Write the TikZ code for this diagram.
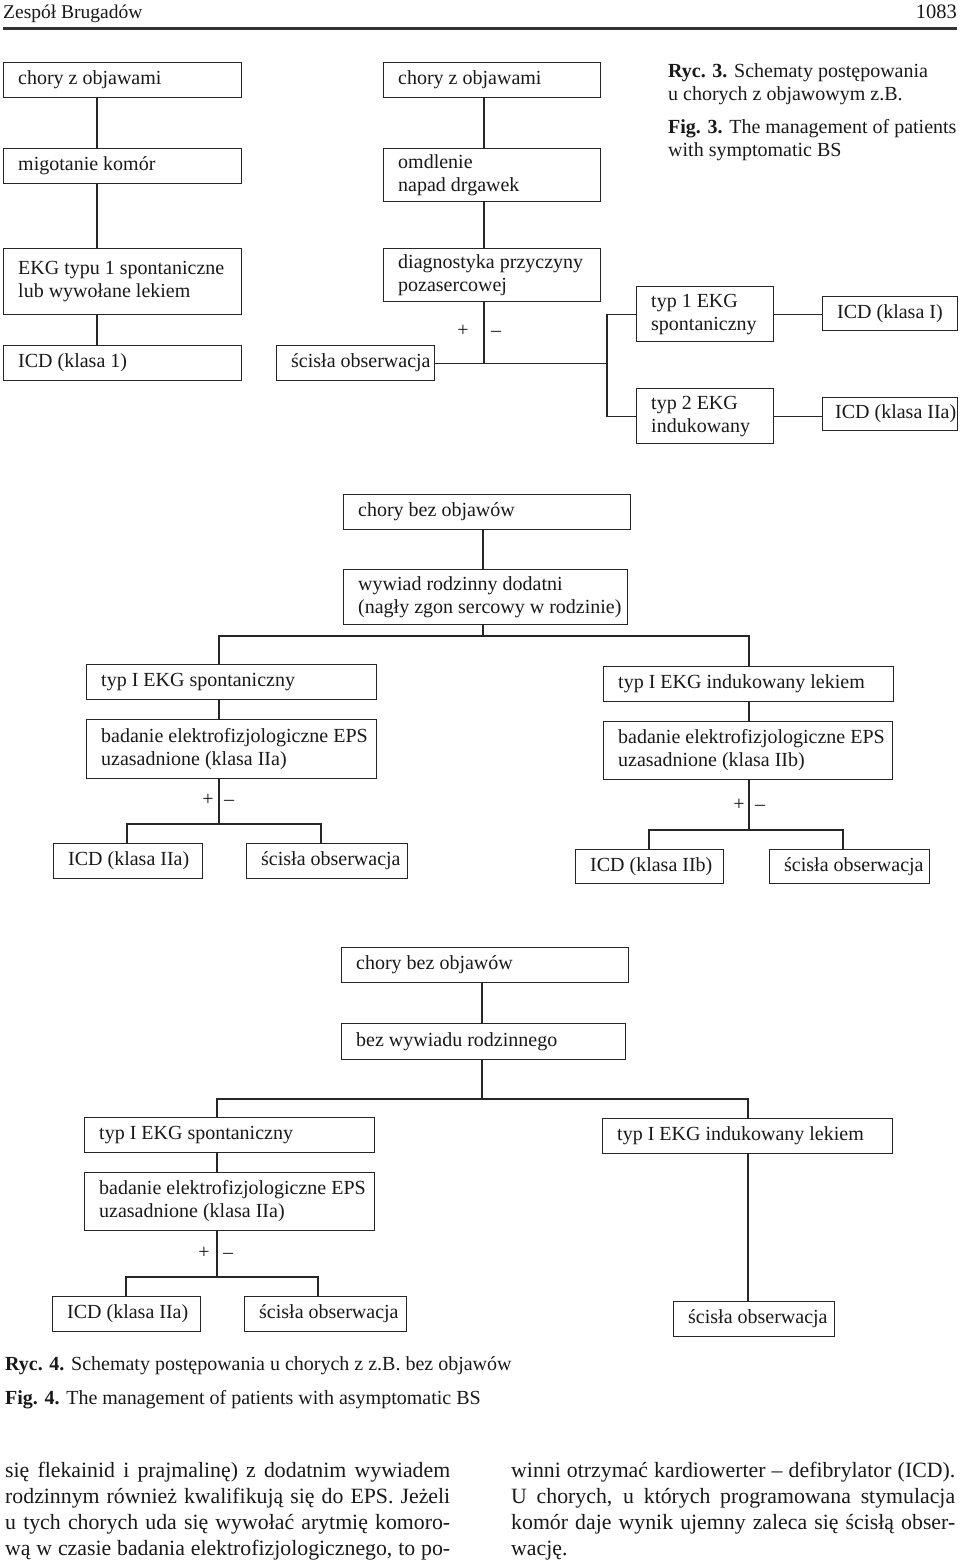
\documentclass[tikz,border=0pt]{standalone}
\usepackage{fontspec}
\setmainfont{Liberation Serif}
\tikzset{
  box/.style={draw=black!85, line width=1.1pt, rectangle, inner sep=0pt, anchor=north west},
  txt/.style={inner sep=0pt, font=\fontsize{20}{23}\selectfont, text=black!90},
  conn/.style={draw=black!85, line width=1.1pt},
  pmsign/.style={inner sep=0pt, font=\fontsize{20}{23}\selectfont, text=black!90, anchor=base},
  captxt/.style={inner sep=0pt, font=\fontsize{20}{23}\selectfont, text=black!90, anchor=base west},
  bodytxt/.style={inner sep=0pt, font=\fontsize{21.8}{26}\selectfont, text=black!90, anchor=base west},
}
\def\ins{15pt}
\newcommand{\bxa}[6]{%
  \node[box, minimum width=#4, minimum height=#5] (#1) at (#2,#3) {};
  \node[txt, anchor=base west] (#1-t) at ([xshift=\ins,yshift=-4.5pt]#1.west) {#6};}
\newcommand{\bxb}[7]{%
  \node[box, minimum width=#4, minimum height=#5] (#1) at (#2,#3) {};
  \node[txt, anchor=base west] (#1-t) at ([xshift=\ins,yshift=7pt]#1.west) {#6};
  \node[txt, anchor=base west] (#1-u) at ([xshift=\ins,yshift=-16pt]#1.west) {#7};}
\begin{document}
\begin{tikzpicture}[x=1pt,y=-1pt]
\useasboundingbox (0,0) rectangle (960,1567);
\fill[white] (0,0) rectangle (960,1567);

% header
\node[inner sep=0pt, font=\fontsize{19.5}{23}\selectfont, text=black!90, anchor=base west] (hdl) at (3,18) {Zespół Brugadów};
\node[inner sep=0pt, font=\fontsize{20.5}{23}\selectfont, text=black!90, anchor=base east] (hdr) at (957,18) {1083};
\draw[line width=3pt, black!80] (3,28.5) -- (957,28.5);

% caption Ryc. 3
\node[captxt] (r3a) at (668,77) {\textbf{Ryc. 3.} Schematy postępowania};
\node[captxt] (r3b) at (668,100) {u chorych z objawowym z.B.};
\node[captxt] (r3c) at (668,133) {\textbf{Fig. 3.} The management of patients};
\node[captxt] (r3d) at (668,156) {with symptomatic BS};

% ---------- top diagram ----------
\bxa{A1}{3}{62}{238}{35}{chory z objawami}
\bxa{A2}{3}{148}{238}{35}{migotanie komór}
\bxb{A3}{3}{248}{238}{66}{EKG typu 1 spontaniczne}{lub wywołane lekiem}
\bxa{A4}{3}{345}{238}{35}{ICD (klasa 1)}
\bxa{B1}{383}{62}{217}{35}{chory z objawami}
\bxb{B2}{383}{148}{217}{53}{omdlenie}{napad drgawek}
\bxb{B3}{383}{248}{217}{53}{diagnostyka przyczyny}{pozasercowej}
\bxa{B4}{276}{345}{158}{35}{ścisła obserwacja}
\bxb{C1}{636}{286}{137}{55}{typ 1 EKG}{spontaniczny}
\bxb{C2}{636}{388}{137}{55}{typ 2 EKG}{indukowany}
\bxa{D1}{822}{296}{135}{34}{ICD (klasa I)}
\def\ins{13pt}
\bxa{D2}{822}{397}{135}{33}{ICD (klasa IIa)}
\def\ins{15pt}

\coordinate (xa) at (97,0);
\coordinate (xb) at (484,0);
\coordinate (br) at (607,0);
\draw[conn] (A1.south -| xa) -- (A2.north -| xa);
\draw[conn] (A2.south -| xa) -- (A3.north -| xa);
\draw[conn] (A3.south -| xa) -- (A4.north -| xa);
\draw[conn] (B1.south -| xb) -- (B2.north -| xb);
\draw[conn] (B2.south -| xb) -- (B3.north -| xb);
\draw[conn] (B3.south -| xb) -- (B4.east -| xb);
\draw[conn] (B4.east) -- (B4.east -| br);
\draw[conn] (C1.west) -- (C1.west -| br) -- (C2.west -| br) -- (C2.west);
\draw[conn] (C1.east) -- (C1.east -| D1.west);
\draw[conn] (C2.east) -- (C2.east -| D2.west);
\node[pmsign] (p1) at (463,336) {+};
\node[pmsign] (m1) at (496,336) {–};

% ---------- middle diagram ----------
\bxa{E1}{343}{494}{287}{35}{chory bez objawów}
\bxb{E2}{343}{569}{284}{55}{wywiad rodzinny dodatni}{(nagły zgon sercowy w rodzinie)}
\bxa{F1}{86}{664}{290}{35}{typ I EKG spontaniczny}
\bxb{F2}{86}{719}{290}{59}{badanie elektrofizjologiczne EPS}{uzasadnione (klasa IIa)}
\bxa{F3}{603}{666}{290}{35}{typ I EKG indukowany lekiem}
\bxb{F4}{603}{721}{289}{58}{badanie elektrofizjologiczne EPS}{uzasadnione (klasa IIb)}
\bxa{G1}{53}{843}{149}{35}{ICD (klasa IIa)}
\bxa{G2}{246}{843}{161}{35}{ścisła obserwacja}
\bxa{G3}{575}{849}{148}{34}{ICD (klasa IIb)}
\bxa{G4}{769}{849}{160}{34}{ścisła obserwacja}

\coordinate (xm) at (483,636);
\coordinate (xf) at (219,0);
\coordinate (xg) at (749,0);
\coordinate (j2) at (219,824);
\coordinate (j3) at (749,830);
\coordinate (g1) at (127,0);
\coordinate (g2) at (321,0);
\coordinate (g3) at (649,0);
\coordinate (g4) at (843,0);
\draw[conn] (E1.south -| xm) -- (E2.north -| xm);
\draw[conn] (E2.south -| xm) -- (xm);
\draw[conn] (F1.north -| xf) -- (xf |- xm) -- (xg |- xm) -- (F3.north -| xg);
\draw[conn] (F1.south -| xf) -- (F2.north -| xf);
\draw[conn] (F3.south -| xg) -- (F4.north -| xg);
\draw[conn] (F2.south -| xf) -- (j2);
\draw[conn] (F4.south -| xg) -- (j3);
\draw[conn] (G1.north -| g1) -- (g1 |- j2) -- (g2 |- j2) -- (G2.north -| g2);
\draw[conn] (G3.north -| g3) -- (g3 |- j3) -- (g4 |- j3) -- (G4.north -| g4);
\node[pmsign] (p2) at (208,805) {+};
\node[pmsign] (m2) at (229,805) {–};
\node[pmsign] (p3) at (739,810) {+};
\node[pmsign] (m3) at (760,810) {–};

% ---------- bottom diagram ----------
\bxa{H1}{341}{947}{287}{35}{chory bez objawów}
\bxa{H2}{341}{1023}{284}{36}{bez wywiadu rodzinnego}
\bxa{I1}{84}{1117}{290}{35}{typ I EKG spontaniczny}
\bxb{I2}{84}{1172}{290}{58}{badanie elektrofizjologiczne EPS}{uzasadnione (klasa IIa)}
\bxa{I3}{602}{1118}{290}{35}{typ I EKG indukowany lekiem}
\bxa{J1}{52}{1296}{148}{35}{ICD (klasa IIa)}
\bxa{J2}{244}{1296}{162}{35}{ścisła obserwacja}
\bxa{J3}{673}{1301}{161}{35}{ścisła obserwacja}

\coordinate (xh) at (482,1099);
\coordinate (xi) at (217,0);
\coordinate (xj) at (748,0);
\coordinate (j4) at (217,1277);
\coordinate (k1) at (126,0);
\coordinate (k2) at (318,0);
\draw[conn] (H1.south -| xh) -- (H2.north -| xh);
\draw[conn] (H2.south -| xh) -- (xh);
\draw[conn] (I1.north -| xi) -- (xi |- xh) -- (xj |- xh) -- (I3.north -| xj);
\draw[conn] (I1.south -| xi) -- (I2.north -| xi);
\draw[conn] (I2.south -| xi) -- (j4);
\draw[conn] (J1.north -| k1) -- (k1 |- j4) -- (k2 |- j4) -- (J2.north -| k2);
\draw[conn] (I3.south -| xj) -- (J3.north -| xj);
\node[pmsign] (p4) at (204,1258) {+};
\node[pmsign] (m4) at (228,1258) {–};

% caption Ryc. 4
\node[captxt] (r4a) at (5,1370) {\textbf{Ryc. 4.} Schematy postępowania u chorych z z.B. bez objawów};
\node[captxt] (r4b) at (5,1404) {\textbf{Fig. 4.} The management of patients with asymptomatic BS};

% body text
\node[bodytxt] (t1) at (5,1477) {\hbox to 445pt{się flekainid i prajmalinę) z dodatnim wywiadem}};
\node[bodytxt] (t2) at (5,1503) {\hbox to 445pt{rodzinnym również kwalifikują się do EPS. Jeżeli}};
\node[bodytxt] (t3) at (5,1529) {\hbox to 445pt{u tych chorych uda się wywołać arytmię komoro-}};
\node[bodytxt] (t4) at (5,1555) {\hbox to 445pt{wą w czasie badania elektrofizjologicznego, to po-}};
\node[bodytxt] (s1) at (511,1477) {\hbox to 444pt{winni otrzymać kardiowerter – defibrylator (ICD).}};
\node[bodytxt] (s2) at (511,1503) {\hbox to 444pt{U chorych, u których programowana stymulacja}};
\node[bodytxt] (s3) at (511,1529) {\hbox to 444pt{komór daje wynik ujemny zaleca się ścisłą obser-}};
\node[bodytxt] (s4) at (511,1555) {wację.};
\end{tikzpicture}
\end{document}
